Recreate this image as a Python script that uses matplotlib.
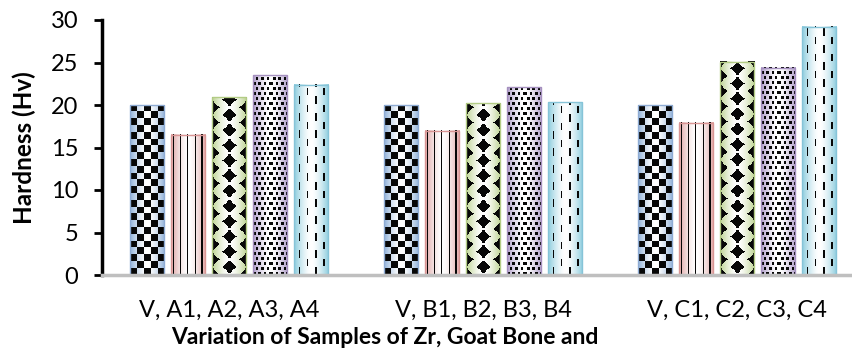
import numpy as np
import matplotlib.pyplot as plt
from matplotlib.colors import to_rgb

# ----------------------------
# DATA
# ----------------------------
groups = ["V, A1, A2, A3, A4", "V, B1, B2, B3, B4", "V, C1, C2, C3, C4"]
s_v = [20.0, 20.0, 20.0]
s_1 = [16.5, 17.0, 17.9]
s_2 = [20.9, 20.2, 25.1]
s_3 = [23.5, 22.1, 24.4]
s_4 = [22.4, 20.3, 29.2]
series = [s_v, s_1, s_2, s_3, s_4]

# ----------------------------
# STYLE
# ----------------------------
plt.rcParams['font.family'] = ['Lato', 'DejaVu Sans']
tint = ["#8fb0d8", "#dea3a2", "#bcd290", "#ad9bc6", "#8acbdd"]
edge = ["#8eabd3", "#d99594", "#b3cc85", "#a590bf", "#86c4d8"]
offsets = [-0.323, -0.161, 0.0, 0.161, 0.323]
bar_w = 0.134


def pattern(kind, h, w):
    v, u = np.indices((h, w)).astype(float)
    v = h - 1 - v  # measure from bar bottom
    u = u + 0.5
    if kind == 0:  # checkerboard
        s = 6.8
        m = ((np.floor(u / s) + np.floor(v / s)) % 2) == 0
    elif kind == 1:  # vertical lines
        m = ((u - 2.2) % 6.8) < 1.2
    elif kind == 2:  # large diamonds
        m = np.zeros((h, w), bool)
        cx = w / 2
        for k in range(-2, 3):
            x = cx + 16 * k
            oy = 7.6 * (abs(k) % 2)
            dv = ((v - oy) % 15.2) - 7.6
            m |= (np.abs(u - x) / 7.5) ** 0.75 + (np.abs(dv) / 7.5) ** 0.75 <= 1
    elif kind == 3:  # small squares
        row = np.floor(v / 5.0)
        m = (((u + 2.7 * (row % 2)) % 5.4) < 2.6) & ((v % 5.0) < 2.4)
    else:  # dashes
        col = np.floor((u - 2.0) / 7.8)
        du = (u - 2.0) % 7.8
        m = (du > 2.8) & (du < 4.3) & (((v + 8.5 * (col % 2)) % 17) < 7.5)
    return m


def texture(kind, h, w):
    u = (np.arange(w) + 0.5) / w
    t = np.abs(u - 0.5) * 2
    t = t ** 1.5
    c = np.array(to_rgb(tint[kind]))
    row = (1 - t)[:, None] * np.ones(3) + t[:, None] * c
    img = np.ones((h, w, 4))
    img[:, :, :3] = row[None, :, :]
    m = pattern(kind, h, w)
    img[m, :3] = 0.03
    return img


# ----------------------------
# PLOT
# ----------------------------
fig = plt.figure(figsize=(8.52, 3.51), dpi=100)
ax = fig.add_axes([102 / 852, 76 / 351, 750 / 852, 255 / 351])
ax.set_xlim(-0.5, 2.453)
ax.set_ylim(0, 30)

x = np.arange(len(groups))
for i, vals in enumerate(series):
    bars = ax.bar(x + offsets[i], vals, bar_w, facecolor='none',
                  edgecolor=edge[i], linewidth=1.0, zorder=3)
    for b in bars:
        x0, y0 = b.get_x(), 0
        x1, y1 = x0 + b.get_width(), b.get_height()
        p0 = ax.transData.transform((x0, y0))
        p1 = ax.transData.transform((x1, y1))
        w = max(int(round(p1[0] - p0[0])), 1)
        h = max(int(round(p1[1] - p0[1])), 1)
        ax.imshow(texture(i, h, w), extent=(x0, x1, y0, y1), aspect='auto',
                  interpolation='nearest', clip_path=b, zorder=2)

ax.set_xlim(-0.5, 2.453)
ax.set_ylim(0, 30)
ax.set_yticks(np.arange(0, 31, 5))
ax.set_xticks(x)
ax.set_xticklabels(groups)
ax.tick_params(axis='x', length=0, pad=18, labelsize=17)
ax.tick_params(axis='y', length=6, width=2, direction='out', pad=11,
               labelsize=17)

for s in ['top', 'right']:
    ax.spines[s].set_visible(False)
ax.spines['left'].set_linewidth(2.5)
ax.spines['left'].set_color('black')
ax.spines['bottom'].set_linewidth(2.5)
ax.spines['bottom'].set_color('#bfbfbf')
ax.spines['bottom'].set_zorder(4)

fig.text(24 / 852, 1 - 148 / 351, "Hardness (Hv)", rotation=90,
         ha='center', va='center', fontsize=17.5, fontweight='bold')
fig.text(385 / 852, 1 - 338 / 351, "Variation of Samples of Zr, Goat Bone and",
         ha='center', va='center', fontsize=16.5, fontweight='bold')

fig.savefig("out.png", dpi=100)
